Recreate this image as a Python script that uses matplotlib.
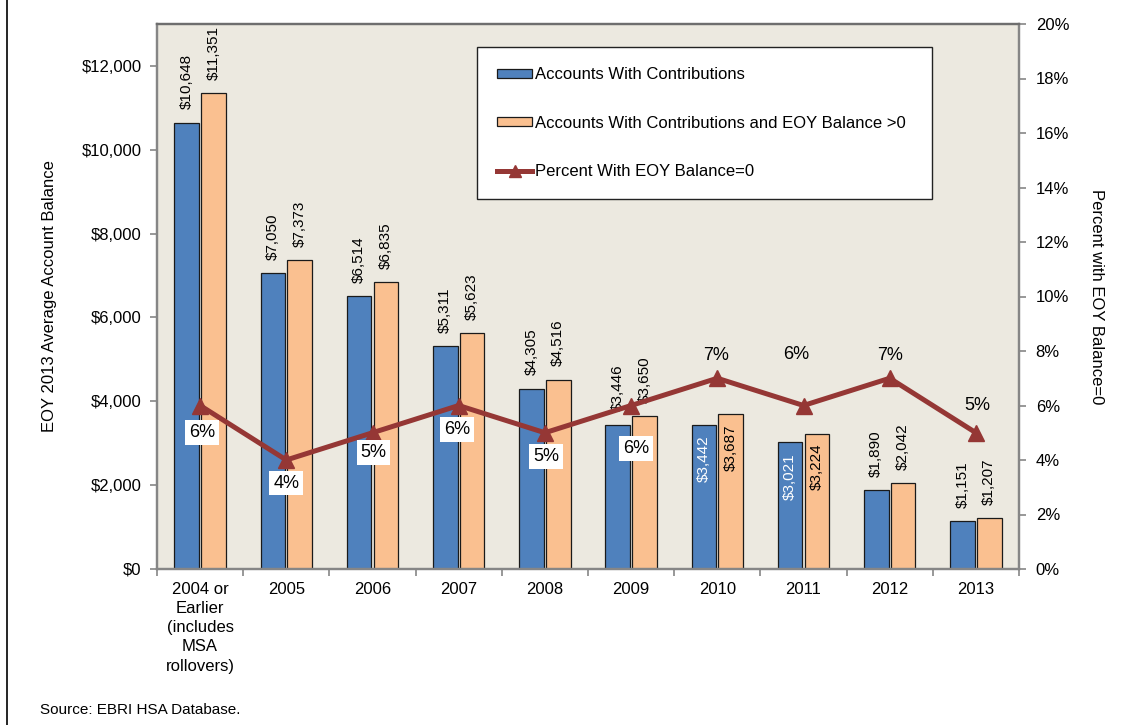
import matplotlib
matplotlib.use("Agg")
import matplotlib.pyplot as plt
import numpy as np
from matplotlib.ticker import FuncFormatter, FixedLocator
from matplotlib.lines import Line2D
from matplotlib.patches import Patch

plt.rcParams['font.family'] = ['Liberation Sans', 'DejaVu Sans']

# ---------------- data ----------------
categories = ["2004 or\nEarlier\n(includes\nMSA\nrollovers)", "2005", "2006", "2007",
              "2008", "2009", "2010", "2011", "2012", "2013"]
with_contrib = [10648, 7050, 6514, 5311, 4305, 3446, 3442, 3021, 1890, 1151]
with_contrib_pos = [11351, 7373, 6835, 5623, 4516, 3650, 3687, 3224, 2042, 1207]
pct_zero = [6, 4, 5, 6, 5, 6, 7, 6, 7, 5]

series_labels = ["Accounts With Contributions",
                 "Accounts With Contributions and EOY Balance >0",
                 "Percent With EOY Balance=0"]

# ---------------- style ----------------
W, H = 1143, 725
BLUE = "#4F81BD"
ORANGE = "#FAC090"
RED = "#953735"
BG = "#ECE9E0"
GRAY = "#868686"

# label placement (pixels): percent labels offset from point
pct_dx = [2, 0, 1, -2, 1, 5, -1, -7, 0, 1]
pct_dy = [-27, -23, -20, -24, -24, -43, 23, 51, 23, 27]
pct_boxed = [True, True, True, True, True, True, False, False, False, False]
inside = [False] * 6 + [True, True] + [False, False]

fig = plt.figure(figsize=(W / 100, H / 100), dpi=100)
ax = fig.add_axes([157 / W, 1 - 569 / H, (1019 - 157) / W, (569 - 24) / H])
ax.set_facecolor(BG)

x = np.arange(len(categories))
bw = 0.285
off = 0.155
ax.bar(x - off, with_contrib, bw, color=BLUE, edgecolor="#1a1a1a", linewidth=0.9, zorder=2)
ax.bar(x + off, with_contrib_pos, bw, color=ORANGE, edgecolor="#1a1a1a", linewidth=0.9, zorder=2)

ax.set_xlim(-0.5, len(categories) - 0.5)
ax.set_ylim(0, 13000)
ax.yaxis.set_major_locator(FixedLocator(np.arange(0, 13000, 2000)))
ax.yaxis.set_major_formatter(FuncFormatter(lambda v, p: f"${v:,.0f}"))
ax.set_xticks(x)
ax.set_xticklabels(categories, fontsize=12, linespacing=1.36)
ax.set_xticks(np.arange(-0.5, len(categories), 1), minor=True)
ax.tick_params(axis='x', which='major', length=0, pad=9)
ax.tick_params(axis='x', which='minor', length=5, color=GRAY, width=1.2, direction='out')
ax.tick_params(axis='y', length=5, color=GRAY, width=1.2, labelsize=12, pad=6)
for s in ax.spines.values():
    s.set_color(GRAY)
    s.set_linewidth(1.6)
ax.spines['top'].set_color("#6e6e6e")

ax.set_ylabel("EOY 2013 Average Account Balance", fontsize=12, labelpad=18)

# bar value labels
for xi, v, ins in zip(x - off, with_contrib, inside):
    if ins:
        ax.annotate(f"${v:,.0f}", (xi, v), xytext=(0, -8), textcoords='offset points',
                    rotation=90, ha='center', va='top', fontsize=11, color='white', zorder=4)
    else:
        ax.annotate(f"${v:,.0f}", (xi, v), xytext=(0, 9.5), textcoords='offset points',
                    rotation=90, ha='center', va='bottom', fontsize=11, color='black', zorder=4)
for xi, v, ins in zip(x + off, with_contrib_pos, inside):
    if ins:
        ax.annotate(f"${v:,.0f}", (xi, v), xytext=(0, -7), textcoords='offset points',
                    rotation=90, ha='center', va='top', fontsize=11, color='black', zorder=4)
    else:
        ax.annotate(f"${v:,.0f}", (xi, v), xytext=(0, 9.5), textcoords='offset points',
                    rotation=90, ha='center', va='bottom', fontsize=11, color='black', zorder=4)

# secondary axis
ax2 = ax.twinx()
ax2.set_ylim(0, 20)
ax2.set_yticks(np.arange(0, 21, 2))
ax2.yaxis.set_major_formatter(FuncFormatter(lambda v, p: f"{v:.0f}%"))
ax2.tick_params(axis='y', length=5, color=GRAY, width=1.2, labelsize=12, pad=7)
for s in ax2.spines.values():
    s.set_color(GRAY)
    s.set_linewidth(1.6)
ax2.spines['top'].set_color("#6e6e6e")
ax2.plot(x, pct_zero, color=RED, linewidth=3.6, marker='^', markersize=11,
         markeredgecolor=RED, zorder=3)
ax2.set_ylabel("Percent with EOY Balance=0", fontsize=12, rotation=270, labelpad=25)

for xi, v, dx, dy, boxed in zip(x, pct_zero, pct_dx, pct_dy, pct_boxed):
    kw = dict(fontsize=13, ha='center', va='center', textcoords='offset points', zorder=5)
    if boxed:
        kw['bbox'] = dict(boxstyle='square,pad=0.22', facecolor='white', edgecolor='none')
    ax2.annotate(f"{v}%", (xi, v), xytext=(dx * 0.72, dy * 0.72), **kw)

# legend
handles = [Patch(facecolor=BLUE, edgecolor="#1a1a1a", linewidth=0.9),
           Patch(facecolor=ORANGE, edgecolor="#1a1a1a", linewidth=0.9),
           Line2D([0], [0], color=RED, linewidth=3.6, marker='^', markersize=9)]
leg = fig.legend(handles, series_labels, loc='upper left',
                 bbox_to_anchor=(477 / W, 1 - 48 / H, (932 - 477) / W, 0.001),
                 mode='expand', fontsize=12, frameon=True, fancybox=False,
                 edgecolor='#222222', framealpha=1, labelspacing=2.0,
                 handlelength=2.1, handleheight=0.5, handletextpad=0.2,
                 borderpad=1.2, borderaxespad=0)
leg.get_frame().set_linewidth(1.0)

fig.text(40 / W, 1 - 710 / H, "Source: EBRI HSA Database.", fontsize=11, va='center', ha='left')
fig.add_artist(Line2D([7 / W, 7 / W], [0, 1], color='black', linewidth=1.2, transform=fig.transFigure))

fig.savefig("out.png", dpi=100)
